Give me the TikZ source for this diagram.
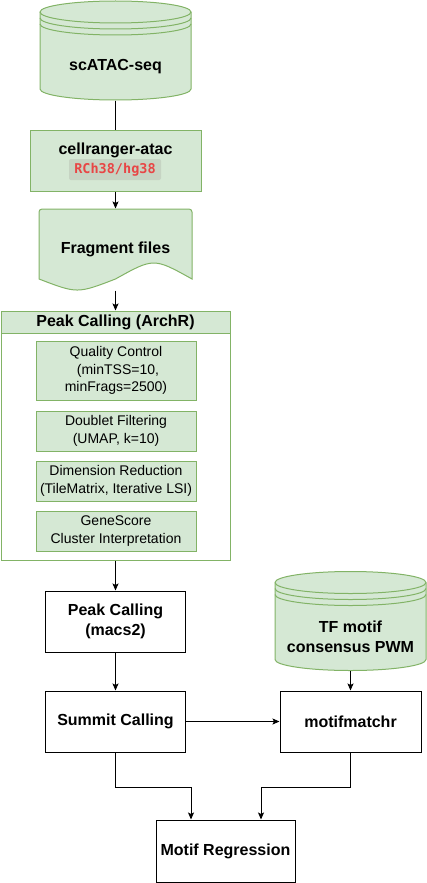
\documentclass[tikz,border=0pt]{standalone}
\usepackage{fontspec}
\setmainfont{Liberation Sans}
\newfontfamily\codefont{DejaVu Sans Mono}
\usetikzlibrary{arrows.meta}
\definecolor{leafgreen}{HTML}{D5E8D4}
\definecolor{edgegreen}{HTML}{82B366}
\definecolor{codered}{HTML}{E84545}
\definecolor{codegray}{HTML}{C6D4C3}

\begin{document}
\begin{tikzpicture}[x=1pt, y=1pt, line width=1pt,
	bold/.style={font=\fontsize{16}{20}\selectfont\bfseries, align=center},
	plain/.style={font=\fontsize{14}{17.5}\selectfont, align=center},
	stepbox/.style={draw, inner sep=0pt, align=center},
	greenbox/.style={draw=edgegreen, fill=leafgreen},
	arr/.style={-{Stealth[length=7pt,width=6pt,inset=1.5pt]}},
	store/.pic={
		\path[greenbox] (-75.5,38.5) -- (-75.5,-38.5) arc[start angle=180, end angle=360, x radius=75.5, y radius=11]
			-- (75.5,38.5) arc[start angle=0, end angle=180, x radius=75.5, y radius=11] -- cycle;
		\draw[edgegreen] (-75.5,38.5) arc[start angle=180, end angle=360, x radius=75.5, y radius=11];
		\draw[edgegreen] (-75.5,32.5) arc[start angle=180, end angle=360, x radius=75.5, y radius=11];
		\draw[edgegreen] (-75.5,26.5) arc[start angle=180, end angle=360, x radius=75.5, y radius=11];
		\node[minimum width=151pt, minimum height=99pt, inner sep=0pt] (-box) {};
		\node[bold] (-text) at (0,-16) {#1};
	}]

	\useasboundingbox (0,0) rectangle (426,-883);

	\pic (atac) at (115.5,-50.5) {store={scATAC-seq}};

	\node[stepbox, greenbox, minimum width=171pt, minimum height=61pt] (ranger) at (115.5,-160.5) {};
	\node[bold] (rangertxt) at (115.5,-150) {cellranger-atac};
	\node[fill=codegray, rounded corners=2pt, text=codered, inner sep=0pt,
		minimum width=92pt, minimum height=21pt,
		font=\codefont\fontsize{13.5}{16}\selectfont\bfseries] (genome) at (115,-169.5) {RCh38/hg38};

	\draw[greenbox] (39,-279) [rounded corners=3pt] -- (39,-209) -- (192,-209) [sharp corners] -- (192,-279)
		.. controls (153.75,-257.7) .. (115.5,-279) .. controls (77.25,-293.7) .. (39,-279) -- cycle;
	\node[bold, minimum width=153pt, minimum height=81pt, inner sep=0pt] (frag) at (115.5,-249.5) {Fragment files};

	\node[draw=edgegreen, fill=white, minimum width=229pt, minimum height=249pt] (archr) at (115.5,-435.5) {};
	\node[bold, greenbox, minimum width=229pt, minimum height=22pt, inner sep=0pt] (archrhead) at (115.5,-322) {Peak Calling (ArchR)};

	\node[stepbox, greenbox, plain, minimum width=160pt, minimum height=59pt] (qc) at (116,-370.5) {Quality Control\\ \ (minTSS=10,\\minFrags=2500)};
	\node[stepbox, greenbox, plain, minimum width=160pt, minimum height=40pt] (dbl) at (116,-431) {Doublet Filtering\\(UMAP, k=10)};
	\node[stepbox, greenbox, plain, minimum width=160pt, minimum height=40pt] (dim) at (116,-481) {Dimension Reduction\\(TileMatrix, Iterative LSI)};
	\node[stepbox, greenbox, plain, minimum width=160pt, minimum height=40pt] (gene) at (116,-531) {GeneScore\\Cluster Interpretation};

	\node[stepbox, bold, minimum width=140pt, minimum height=61pt] (macs) at (115.5,-621.5) {Peak Calling\\(macs2)};
	\node[stepbox, bold, minimum width=140pt, minimum height=61pt] (summit) at (115.5,-721.5) {Summit Calling};
	\pic (pwm) at (350.5,-621) {store={TF motif\\consensus PWM}};
	\node[stepbox, bold, minimum width=141pt, minimum height=61pt] (motif) at (350.5,-721.5) {motifmatchr};
	\node[stepbox, bold, minimum width=139pt, minimum height=62pt] (reg) at (225.5,-851) {Motif Regression};

	\draw (atac-box) -- (ranger);
	\draw[arr] (ranger) -- (frag);
	\draw[arr] (frag) -- (archr);
	\draw[arr] (archr) -- (macs);
	\draw[arr] (macs) -- (summit);
	\draw[arr] (summit) -- (motif);
	\draw[arr] (pwm-box) -- (motif);
	\draw[arr] (summit.south) -- ++(0,-35) -| ([xshift=-34.5pt]reg.north);
	\draw[arr] (motif.south) -- ++(0,-35) -| ([xshift=35.5pt]reg.north);

\end{tikzpicture}
\end{document}
